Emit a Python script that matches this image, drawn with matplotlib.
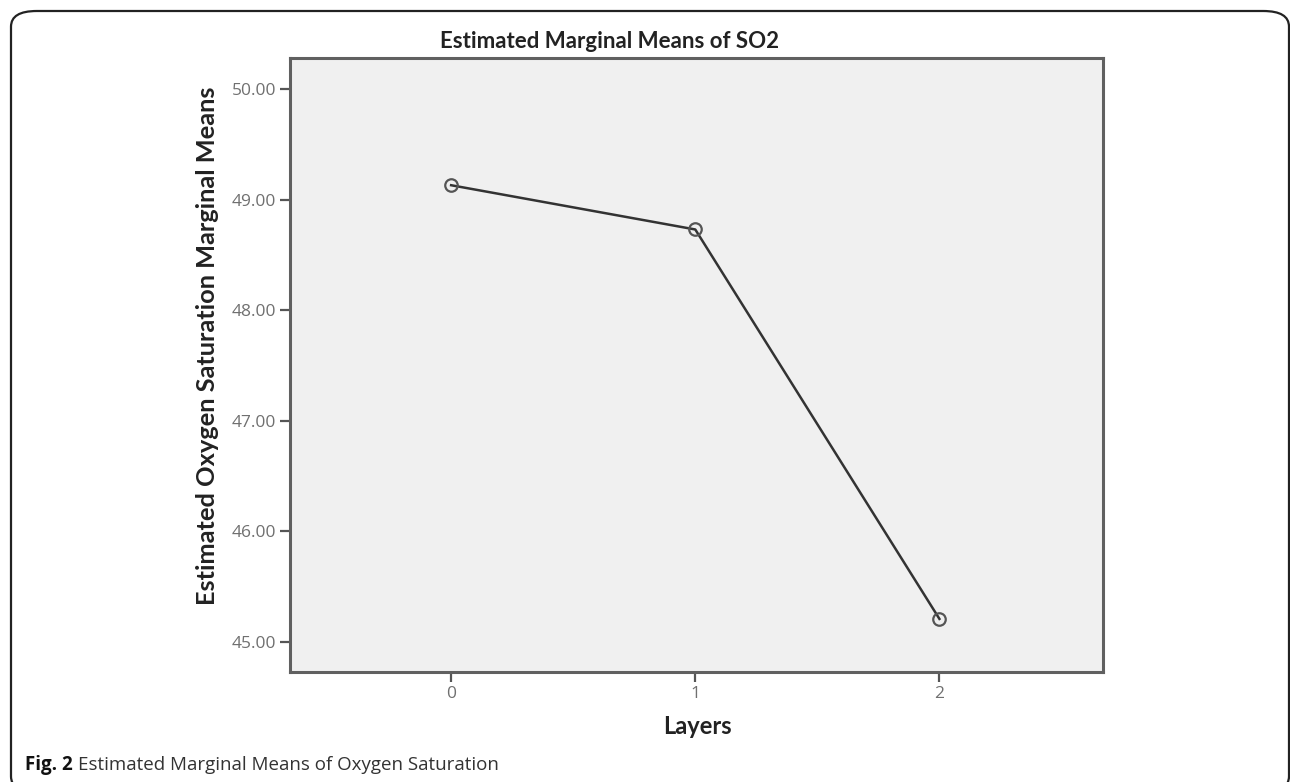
import matplotlib.pyplot as plt
import matplotlib.patches as patches

layers = [0, 1, 2]
means = [49.13, 48.73, 45.21]
y_ticks = [45.0, 46.0, 47.0, 48.0, 49.0, 50.0]

W, H = 1290, 782
fig = plt.figure(figsize=(W / 100, H / 100), dpi=100)


def fx(px):
    return px / W


def fy(py):
    return 1 - py / H


# outer rounded frame (runs off right and bottom edge)
frame = patches.FancyBboxPatch((fx(11), fy(792)), fx(1289 - 11), fy(11) - fy(792),
                               boxstyle="round,pad=0,rounding_size=0.02",
                               transform=fig.transFigure, fill=False,
                               edgecolor='#222222', linewidth=1.6)
fig.patches.append(frame)

left, top, right, bottom = 290, 58, 1103, 672
ax = fig.add_axes([fx(left), fy(bottom), fx(right - left), fy(top) - fy(bottom)])
ax.set_facecolor('#f0f0f0')

ax.plot(layers, means, color='#333333', linewidth=1.8, marker='o', markersize=9,
        markerfacecolor='none', markeredgecolor='#555555', markeredgewidth=1.6)

ax.set_xlim(-0.66, 2.67)
ax.set_ylim(44.73, 50.28)
ax.set_xticks(layers)
ax.set_xticklabels([str(v) for v in layers])
ax.set_yticks(y_ticks)
ax.set_yticklabels([f"{v:.2f}" for v in y_ticks])

for s in ax.spines.values():
    s.set_color('#606060')
    s.set_linewidth(2.2)

ax.tick_params(axis='both', direction='out', length=7, width=1.6, color='#555555',
               labelsize=12.5, labelcolor='#707070', pad=3)
for lab in ax.get_xticklabels() + ax.get_yticklabels():
    lab.set_family('Open Sans')

fig.text(fx(609), fy(41), 'Estimated Marginal Means of SO2', ha='center', va='center',
         fontsize=16, fontweight='bold', family='Lato', color='#222222')
fig.text(fx(208), fy(346), 'Estimated Oxygen Saturation Marginal Means', ha='center',
         va='center', rotation=90, fontsize=18.3, fontweight='bold', family='Lato',
         color='#222222')
fig.text(fx(697), fy(727), 'Layers', ha='center', va='center', fontsize=17,
         fontweight='bold', family='Lato', color='#222222')

cap1 = fig.text(fx(25), fy(765), 'Fig. 2', ha='left', va='center', fontsize=13.5,
                fontweight='bold', family='Open Sans', color='#111111')
renderer = fig.canvas.get_renderer()
ext = cap1.get_window_extent(renderer)
fig.text(fx(ext.x1 + 5), fy(765), 'Estimated Marginal Means of Oxygen Saturation',
         ha='left', va='center', fontsize=13.5, family='Open Sans', color='#333333')

fig.savefig('out.png', dpi=100)
